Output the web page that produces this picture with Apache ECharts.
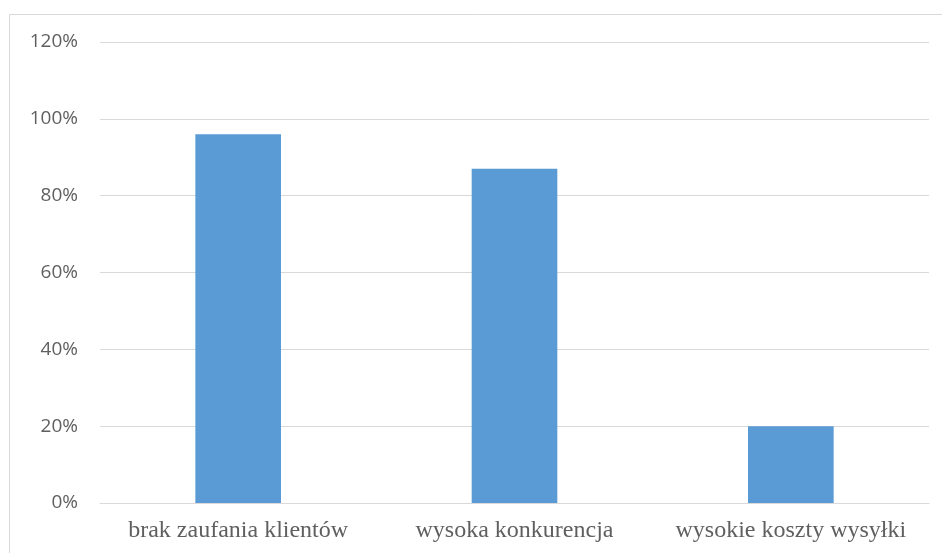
<!DOCTYPE html>
<html>
<head>
<meta charset="utf-8">
<script src="https://cdn.jsdelivr.net/npm/echarts@6/dist/echarts.min.js"></script>
<style>
  html, body { margin: 0; padding: 0; background: #fff; }
  #chart { width: 942px; height: 553px; }
</style>
</head>
<body>
<div id="chart"></div>
<script>
// Reasons / barriers and the share of respondents naming each
const categories = ['brak zaufania klientów', 'wysoka konkurencja', 'wysokie koszty wysyłki'];
const shares = [96, 87, 20];
const yTicks = { min: 0, max: 120, interval: 20 };

const chart = echarts.init(document.getElementById('chart'), null, { renderer: 'canvas' });

chart.setOption({
  animation: false,
  backgroundColor: '#ffffff',
  graphic: [{
    type: 'rect',
    shape: { x: 9.5, y: 14.5, width: 1000, height: 600 },
    style: { fill: 'none', stroke: '#d9d9d9', lineWidth: 1 },
    silent: true
  }],
  grid: { left: 100, right: 13, top: 42, bottom: 50, containLabel: false },
  xAxis: {
    type: 'category',
    data: categories,
    axisLine: { show: true, lineStyle: { color: '#d9d9d9', width: 1 } },
    axisTick: { show: false },
    axisLabel: {
      color: '#5f5f5f',
      fontFamily: '"Liberation Serif", "DejaVu Serif", serif',
      fontSize: 24,
      margin: 16,
      interval: 0
    }
  },
  yAxis: {
    type: 'value',
    min: yTicks.min,
    max: yTicks.max,
    interval: yTicks.interval,
    axisLine: { show: false },
    axisTick: { show: false },
    splitLine: { lineStyle: { color: '#d9d9d9', width: 1 } },
    axisLabel: {
      color: '#5f5f5f',
      fontFamily: '"Open Sans", "Liberation Sans", sans-serif',
      fontSize: 19,
      margin: 22,
      formatter: '{value}%'
    }
  },
  series: [{
    type: 'bar',
    data: shares,
    barWidth: '31%',
    itemStyle: { color: '#5b9bd5' }
  }]
});
</script>
</body>
</html>
